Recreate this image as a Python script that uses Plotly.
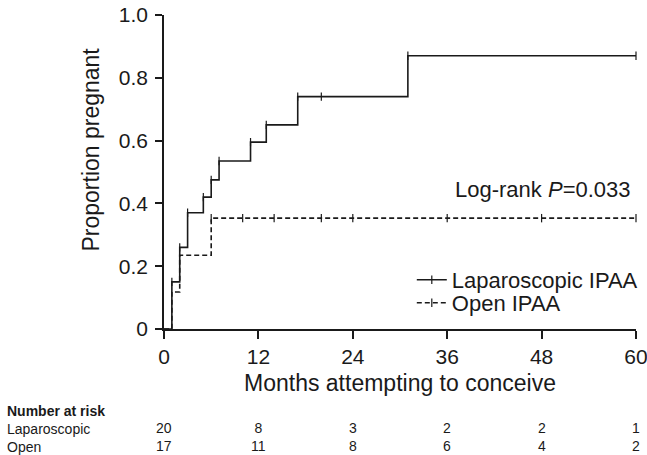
import plotly.graph_objects as go

# Kaplan-Meier style cumulative proportion pregnant
lap_times = [0, 1, 2, 3, 5, 6, 7, 11, 13, 17, 31, 60]
lap_prop = [0, 0.15, 0.26, 0.37, 0.42, 0.475, 0.535, 0.595, 0.65, 0.74, 0.87, 0.87]
lap_cens_t = [1, 2, 3, 5, 6, 7, 11, 13, 17, 20, 31, 60]
lap_cens_y = [0.15, 0.26, 0.37, 0.42, 0.475, 0.535, 0.595, 0.65, 0.74, 0.74, 0.87, 0.87]

open_times = [0, 1, 2, 6, 60]
open_prop = [0, 0.118, 0.235, 0.353, 0.353]
open_cens_t = [6, 10, 14, 20, 24, 36, 48, 60]
open_cens_y = [0.353] * 8

risk_times = [0, 12, 24, 36, 48, 60]
risk_lap = [20, 8, 3, 2, 2, 1]
risk_open = [17, 11, 8, 6, 4, 2]
risk_labels = ["Laparoscopic", "Open"]

x_ticks = [0, 12, 24, 36, 48, 60]
y_ticks = [0, 0.2, 0.4, 0.6, 0.8, 1.0]
y_ticktext = ["0", "0.2", "0.4", "0.6", "0.8", "1.0"]

FONT = "Liberation Sans, Arial, sans-serif"
INK = "#1a1a1a"
TICK = dict(symbol="line-ns", size=6, line=dict(color=INK, width=1.2))

fig = go.Figure()
fig.add_trace(go.Scatter(x=lap_times, y=lap_prop, mode="lines", line=dict(shape="hv", color=INK, width=1.6),
                         showlegend=False, hoverinfo="skip"))
fig.add_trace(go.Scatter(x=open_times, y=open_prop, mode="lines",
                         line=dict(shape="hv", color=INK, width=1.6, dash="5px,3px"),
                         showlegend=False, hoverinfo="skip"))
fig.add_trace(go.Scatter(x=lap_cens_t, y=lap_cens_y, mode="markers", marker=TICK,
                         showlegend=False, hoverinfo="skip", cliponaxis=False))
fig.add_trace(go.Scatter(x=open_cens_t, y=open_cens_y, mode="markers", marker=TICK,
                         showlegend=False, hoverinfo="skip", cliponaxis=False))
# legend entries
fig.add_trace(go.Scatter(x=[None], y=[None], mode="lines+markers", name="Laparoscopic IPAA",
                         line=dict(color=INK, width=1.6), marker=TICK, legend="legend"))
fig.add_trace(go.Scatter(x=[None], y=[None], mode="lines+markers", name="Open IPAA",
                         line=dict(color=INK, width=1.6, dash="5px,3px"), marker=TICK, legend="legend2"))

annotations = []
annotations.append(dict(x=59.6, y=0.443, xref="x", yref="y", text="Log-rank <i>P</i>=0.033",
                        showarrow=False, xanchor="right", yanchor="middle",
                        font=dict(family=FONT, size=22, color=INK)))
annotations.append(dict(x=-0.155, y=0.571, xref="paper", yref="paper", text="Proportion pregnant",
                        textangle=-90, showarrow=False, xanchor="center", yanchor="middle",
                        font=dict(family=FONT, size=23, color=INK)))
annotations.append(dict(x=0.5, y=-0.172, xref="paper", yref="paper", text="Months attempting to conceive",
                        showarrow=False, xanchor="center", yanchor="middle",
                        font=dict(family=FONT, size=23, color=INK)))
# number-at-risk table
annotations.append(dict(x=-0.335, y=-0.317, xref="paper", yref="paper",
                        text="<b>Number at risk</b><br>" + "<br>".join(risk_labels),
                        showarrow=False, xanchor="left", yanchor="middle", align="left", borderpad=0,
                        font=dict(family=FONT, size=14, color=INK)))
for t, a, b in zip(risk_times, risk_lap, risk_open):
    annotations.append(dict(x=t, y=-0.345, xref="x", yref="paper", text=f"{a}<br>{b}", showarrow=False,
                            xanchor="center", yanchor="middle", align="center", borderpad=0,
                            font=dict(family=FONT, size=14, color=INK)))

legend_style = dict(xanchor="left", yanchor="middle", bgcolor="rgba(0,0,0,0)",
                    font=dict(family=FONT, size=22, color=INK), itemwidth=30)

fig.update_layout(
    width=647, height=455,
    margin=dict(l=164, r=11, t=15, b=126, pad=0, autoexpand=False),
    paper_bgcolor="white", plot_bgcolor="white",
    font=dict(family=FONT, size=21, color=INK),
    annotations=annotations,
    legend=dict(x=0.525, y=0.156, **legend_style),
    legend2=dict(x=0.525, y=0.083, **legend_style),
    xaxis=dict(range=[0, 60], tickvals=x_ticks, ticks="outside", ticklen=8, tickwidth=1.5,
               tickcolor=INK, showline=True, linecolor=INK, linewidth=1.5, showgrid=False,
               zeroline=False, tickfont=dict(size=21), automargin=False, ticklabeloverflow="allow"),
    yaxis=dict(range=[0, 1.0], tickvals=y_ticks, ticktext=y_ticktext, ticks="outside", ticklen=7,
               tickwidth=1.5, tickcolor=INK, showline=True, linecolor=INK, linewidth=1.5,
               showgrid=False, zeroline=False, tickfont=dict(size=21), automargin=False,
               ticklabelstandoff=3),
)

fig.write_html("out.html", config={"displayModeBar": False},
               post_script="document.body.style.margin='0';document.body.style.padding='0';document.body.style.overflow='hidden';")
